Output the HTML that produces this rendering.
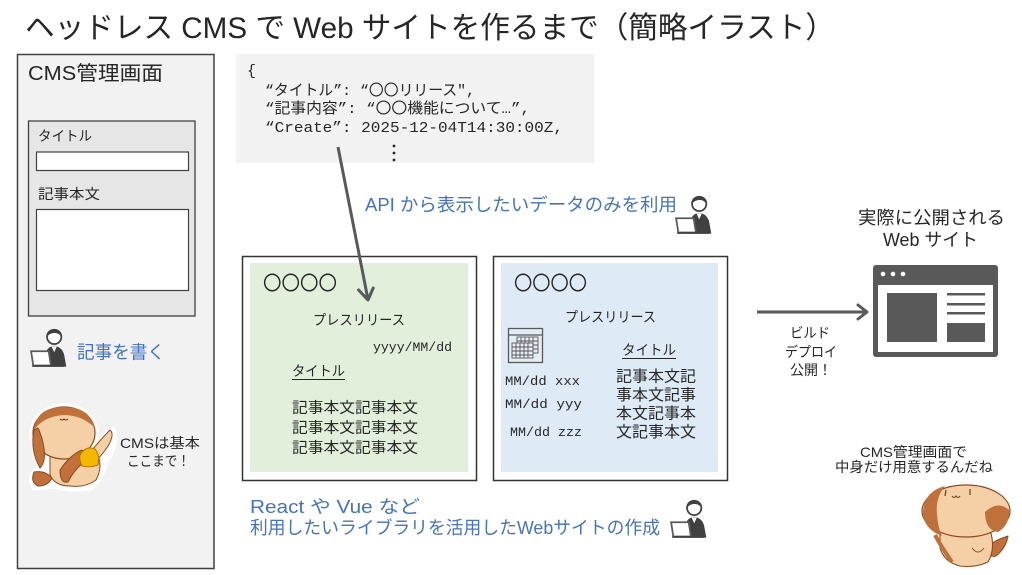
<!DOCTYPE html>
<html>
<head>
<meta charset="utf-8">
<style>
  html,body{margin:0;padding:0;background:#fff;}
  svg{display:block;}
  .jp{font-family:"Liberation Sans","Noto Sans CJK JP",sans-serif;fill:#262626;}
  .mono{font-family:"Liberation Mono","Noto Sans CJK JP",monospace;fill:#262626;}
  .blue{fill:#4472c4;}
</style>
</head>
<body>
<svg width="1022" height="575" viewBox="0 0 1022 575" xmlns="http://www.w3.org/2000/svg">
  <defs>
    <g id="person">
      <path d="M13 36 L14 25 Q15 18 22 17 Q29 18 31 25 L33 36 Z" fill="#404040"/>
      <path d="M19.5 17.5 L22 23 L24.5 17.5 Z" fill="#fff"/>
      <circle cx="22" cy="9" r="6.5" fill="#fff" stroke="#404040" stroke-width="1.6"/>
      <path d="M15.3 9 Q15 2 22 2 Q29 2 28.7 9 Q26 5 22 5.5 Q18 5.5 15.3 9Z" fill="#404040"/>
      <path d="M1 22 L17 22 L19 35 L3 35 Z" fill="#fff" stroke="#595959" stroke-width="1.6"/>
      <line x1="2" y1="35.5" x2="31" y2="35.5" stroke="#404040" stroke-width="1.6"/>
    </g>
  </defs>

  <rect x="0" y="0" width="1022" height="575" fill="#fff"/>

  <!-- Title -->
  <text class="jp" x="25" y="38" font-size="30" textLength="810" lengthAdjust="spacingAndGlyphs">ヘッドレス CMS で Web サイトを作るまで（簡略イラスト）</text>

  <!-- Left CMS panel -->
  <rect x="17.5" y="54.5" width="196.5" height="514" fill="#f2f2f2" stroke="#404040" stroke-width="1.5"/>
  <text class="jp" x="28" y="80" font-size="20" textLength="135" lengthAdjust="spacingAndGlyphs">CMS管理画面</text>
  <rect x="28.5" y="121" width="166.5" height="195" fill="#e6e6e6" stroke="#404040" stroke-width="1.3"/>
  <text class="jp" x="38" y="141" font-size="14" textLength="54" lengthAdjust="spacingAndGlyphs">タイトル</text>
  <rect x="36.5" y="152" width="152" height="18.5" fill="#fff" stroke="#404040" stroke-width="1.2"/>
  <text class="jp" x="38" y="199" font-size="14" textLength="62" lengthAdjust="spacingAndGlyphs">記事本文</text>
  <rect x="36.5" y="209.5" width="152" height="81" fill="#fff" stroke="#404040" stroke-width="1.2"/>

  <g transform="translate(30,327) scale(1.1)"><use href="#person"/></g>
  <text class="jp blue" x="77" y="358.5" font-size="18" textLength="88" lengthAdjust="spacingAndGlyphs">記事を書く</text>

  <!-- Dog 1 -->
  <g stroke-linejoin="round">
    <g fill="#fff" stroke="#fff" stroke-width="7">
      <ellipse cx="64" cy="433" rx="31" ry="26"/>
      <path d="M50 455 Q70 445 95 450 L112 430 Q118 440 105 462 Q100 480 90 487 Q70 490 55 485 L35 487 Q28 475 40 470 Z"/>
    </g>
    <path d="M34 472 Q45 470 52 478 Q48 486 38 486 Q30 482 34 472Z" fill="#c0703a" stroke="#8b4a20" stroke-width="1"/>
    <path d="M50 455 Q70 446 96 452 Q104 465 96 480 Q85 488 70 486 Q55 486 50 475 Z" fill="#f5cfa5" stroke="#8b4a20" stroke-width="1"/>
    <path d="M88 455 Q100 440 110 430 Q115 434 108 446 Q100 458 94 462 Z" fill="#f5cfa5" stroke="#8b4a20" stroke-width="1"/>
    <ellipse cx="64" cy="433" rx="31" ry="26" fill="#f5cfa5" stroke="#8b4a20" stroke-width="1.2"/>
    <path d="M34 430 Q36 407 64 407 Q90 407 95 428 Q82 415 64 415 Q44 416 34 430Z" fill="#c0703a"/>
    <path d="M34 430 Q30 450 40 468 Q46 462 44 448 Q42 436 38 428 Z" fill="#c0703a" stroke="#8b4a20" stroke-width="1"/>
    <path d="M60 470 Q70 455 82 450 Q88 455 84 462 Q74 470 68 482 Q60 484 60 470Z" fill="#c0703a" stroke="#8b4a20" stroke-width="1"/>
    <path d="M80 455 Q86 445 95 449 Q100 455 98 465 Q90 468 82 466 Q79 460 80 455Z" fill="#f5b800" stroke="#b07a00" stroke-width="1"/>
    <path d="M60 419 q2 2 4 0 q2 2 4 0" fill="none" stroke="#6b3a1a" stroke-width="1"/>
  </g>
  <text class="jp" x="120" y="448" font-size="14" textLength="80" lengthAdjust="spacingAndGlyphs">CMSは基本</text>
  <text class="jp" x="127" y="466" font-size="14" textLength="63" lengthAdjust="spacingAndGlyphs">ここまで！</text>

  <!-- Code box -->
  <rect x="236" y="54" width="358" height="109" fill="#f2f2f2"/>
  <text class="mono" x="247" y="75" font-size="15">{</text>
  <text class="mono" x="265" y="95" font-size="15" textLength="210" lengthAdjust="spacingAndGlyphs">“タイトル”: “〇〇リリース",</text>
  <text class="mono" x="265" y="113" font-size="15" textLength="265" lengthAdjust="spacingAndGlyphs">“記事内容”: “〇〇機能について…”,</text>
  <text class="mono" x="265" y="132" font-size="15" textLength="298" lengthAdjust="spacingAndGlyphs">“Create”: 2025-12-04T14:30:00Z,</text>
  <circle cx="394" cy="146" r="1.4" fill="#262626"/>
  <circle cx="394" cy="153" r="1.4" fill="#262626"/>
  <circle cx="394" cy="160" r="1.4" fill="#262626"/>

  <!-- API text -->
  <text class="jp blue" x="365" y="211" font-size="18" textLength="312" lengthAdjust="spacingAndGlyphs">API から表示したいデータのみを利用</text>
  <g transform="translate(675,194) scale(1.1)"><use href="#person"/></g>

  <!-- Green box -->
  <rect x="242.5" y="256.5" width="234" height="224" fill="#fff" stroke="#333" stroke-width="1.5"/>
  <rect x="250" y="263" width="218" height="209" fill="#e2efda"/>
  <text class="jp" x="263" y="290" font-size="20" textLength="74" lengthAdjust="spacingAndGlyphs">〇〇〇〇</text>
  <text class="jp" x="313" y="325" font-size="14" textLength="92" lengthAdjust="spacingAndGlyphs">プレスリリース</text>
  <text class="mono" x="373" y="351" font-size="13" textLength="79" lengthAdjust="spacingAndGlyphs">yyyy/MM/dd</text>
  <text class="jp" x="292" y="376" font-size="14" textLength="53" lengthAdjust="spacingAndGlyphs">タイトル</text>
  <line x1="292" y1="379.5" x2="345" y2="379.5" stroke="#262626" stroke-width="1"/>
  <text class="jp" x="292" y="412.5" font-size="15" textLength="126" lengthAdjust="spacingAndGlyphs">記事本文記事本文</text>
  <text class="jp" x="292" y="432.5" font-size="15" textLength="126" lengthAdjust="spacingAndGlyphs">記事本文記事本文</text>
  <text class="jp" x="292" y="452.5" font-size="15" textLength="126" lengthAdjust="spacingAndGlyphs">記事本文記事本文</text>

  <!-- Blue box -->
  <rect x="493.5" y="256.5" width="234" height="224" fill="#fff" stroke="#333" stroke-width="1.5"/>
  <rect x="501" y="263" width="217" height="209" fill="#deebf7"/>
  <text class="jp" x="514" y="290" font-size="20" textLength="73" lengthAdjust="spacingAndGlyphs">〇〇〇〇</text>
  <text class="jp" x="565" y="322" font-size="14" textLength="91" lengthAdjust="spacingAndGlyphs">プレスリリース</text>
  <g stroke="#595959" fill="none">
    <rect x="508.5" y="328.5" width="34" height="34" fill="#e4ecf4" stroke-width="1.3"/>
    <line x1="508.5" y1="335" x2="542.5" y2="335" stroke-width="1.3"/>
    <g stroke-width="0.9">
      <rect x="517" y="337" width="21" height="16" fill="#e4ecf4"/>
      <line x1="521" y1="337" x2="521" y2="353"/><line x1="525" y1="337" x2="525" y2="353"/><line x1="529" y1="337" x2="529" y2="353"/><line x1="533" y1="337" x2="533" y2="353"/>
      <line x1="517" y1="341" x2="538" y2="341"/><line x1="517" y1="345" x2="538" y2="345"/><line x1="517" y1="349" x2="538" y2="349"/>
      <rect x="512" y="343" width="21" height="15" fill="#e4ecf4"/>
      <line x1="516" y1="343" x2="516" y2="358"/><line x1="520" y1="343" x2="520" y2="358"/><line x1="524" y1="343" x2="524" y2="358"/><line x1="528" y1="343" x2="528" y2="358"/>
      <line x1="512" y1="347" x2="533" y2="347"/><line x1="512" y1="351" x2="533" y2="351"/><line x1="512" y1="355" x2="533" y2="355"/>
    </g>
  </g>
  <text class="jp" x="622" y="355" font-size="14" textLength="54" lengthAdjust="spacingAndGlyphs">タイトル</text>
  <line x1="622" y1="358.5" x2="676" y2="358.5" stroke="#262626" stroke-width="1"/>
  <text class="jp" x="616" y="381.5" font-size="15.5" textLength="80" lengthAdjust="spacingAndGlyphs">記事本文記</text>
  <text class="jp" x="616" y="400" font-size="15.5" textLength="80" lengthAdjust="spacingAndGlyphs">事本文記事</text>
  <text class="jp" x="616" y="418.5" font-size="15.5" textLength="80" lengthAdjust="spacingAndGlyphs">本文記事本</text>
  <text class="jp" x="616" y="437" font-size="15.5" textLength="80" lengthAdjust="spacingAndGlyphs">文記事本文</text>
  <text class="mono" x="505" y="385" font-size="13" textLength="75" lengthAdjust="spacingAndGlyphs">MM/dd xxx</text>
  <text class="mono" x="505" y="408" font-size="13" textLength="77" lengthAdjust="spacingAndGlyphs">MM/dd yyy</text>
  <text class="mono" x="510" y="436" font-size="13" textLength="72" lengthAdjust="spacingAndGlyphs">MM/dd zzz</text>

  <!-- Arrow from code to green box (drawn on top) -->
  <line x1="338" y1="147" x2="367.5" y2="297" stroke="#595959" stroke-width="3"/>
  <polyline points="358.6,290 368,300 373.2,288" fill="none" stroke="#595959" stroke-width="3" stroke-linecap="round" stroke-linejoin="round"/>

  <!-- Bottom blue text -->
  <text class="jp blue" x="250" y="513" font-size="18" textLength="170" lengthAdjust="spacingAndGlyphs">React や Vue など</text>
  <text class="jp blue" x="250" y="534" font-size="18" textLength="410" lengthAdjust="spacingAndGlyphs">利用したいライブラリを活用したWebサイトの作成</text>
  <g transform="translate(670,498) scale(1.1)"><use href="#person"/></g>

  <!-- Right side -->
  <text class="jp" x="858" y="224" font-size="18" textLength="147" lengthAdjust="spacingAndGlyphs">実際に公開される</text>
  <text class="jp" x="883" y="246" font-size="18" textLength="95" lengthAdjust="spacingAndGlyphs">Web サイト</text>

  <line x1="757" y1="312" x2="866" y2="312" stroke="#595959" stroke-width="3"/>
  <polyline points="858,305 867,312 858,319" fill="none" stroke="#595959" stroke-width="3" stroke-linecap="round" stroke-linejoin="round"/>
  <text class="jp" x="790" y="338" font-size="14" textLength="40" lengthAdjust="spacingAndGlyphs">ビルド</text>
  <text class="jp" x="785" y="357" font-size="14" textLength="52" lengthAdjust="spacingAndGlyphs">デプロイ</text>
  <text class="jp" x="790" y="375" font-size="14" textLength="42" lengthAdjust="spacingAndGlyphs">公開！</text>

  <!-- Browser icon -->
  <rect x="873" y="265" width="125" height="92" rx="3" fill="#595959"/>
  <circle cx="883" cy="274" r="2.3" fill="#fff"/>
  <circle cx="893" cy="274" r="2.3" fill="#fff"/>
  <circle cx="903" cy="274" r="2.3" fill="#fff"/>
  <rect x="878" y="285" width="115" height="67" fill="#fff"/>
  <rect x="887" y="293" width="50" height="49" fill="#595959"/>
  <rect x="947" y="293" width="38" height="2.5" fill="#595959"/>
  <rect x="947" y="303" width="38" height="2.5" fill="#595959"/>
  <rect x="947" y="312" width="38" height="2.5" fill="#595959"/>
  <rect x="947" y="323" width="38" height="19" fill="#595959"/>

  <text class="jp" x="860" y="457" font-size="14" textLength="107" lengthAdjust="spacingAndGlyphs">CMS管理画面で</text>
  <text class="jp" x="835" y="472" font-size="14" textLength="158" lengthAdjust="spacingAndGlyphs">中身だけ用意するんだね</text>

  <!-- Dog 2 -->
  <g stroke-linejoin="round">
    <path d="M985 548 Q995 540 1008 536 Q1006 548 996 556 Q988 558 985 548Z" fill="#c0703a" stroke="#8b4a20" stroke-width="1"/>
    <path d="M940 528 Q965 525 990 530 Q996 548 988 562 Q975 568 960 566 Q944 562 940 548 Z" fill="#f5cfa5" stroke="#8b4a20" stroke-width="1.1"/>
    <path d="M935 535 Q942 548 952 562" fill="none" stroke="#c0703a" stroke-width="4"/>
    <ellipse cx="966" cy="511" rx="44" ry="26" fill="#f5cfa5" stroke="#8b4a20" stroke-width="1.2"/>
    <path d="M923 516 Q922 492 945 486 Q935 498 937 515 Q938 528 942 536 Q926 530 923 516Z" fill="#c0703a"/>
    <path d="M985 512 Q998 500 1009 510 Q1010 525 998 532 Q985 530 985 512Z" fill="#c0703a"/>
    <line x1="946" y1="490" x2="945" y2="496" stroke="#6b3a1a" stroke-width="1.2"/>
    <line x1="970" y1="489" x2="970" y2="495" stroke="#6b3a1a" stroke-width="1.2"/>
    <path d="M952 496 q2 3 4 0 q2 3 4 0" fill="none" stroke="#6b3a1a" stroke-width="1.1"/>
    <path d="M972 548 Q978 556 984 548" fill="none" stroke="#8b4a20" stroke-width="1"/>
  </g>
</svg>
</body>
</html>
